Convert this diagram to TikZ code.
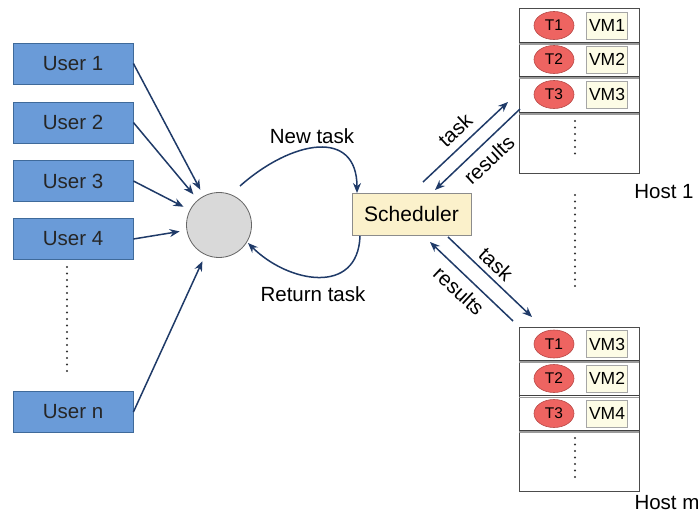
\documentclass[tikz,border=0pt]{standalone}
\usepackage{fontspec}
\setmainfont{Liberation Sans}
\usetikzlibrary{arrows.meta,shapes.geometric}
\definecolor{userfill}{HTML}{6A9BD8}
\definecolor{userdraw}{HTML}{3F6A9A}
\definecolor{arrowcol}{HTML}{1F3A68}
\definecolor{schedfill}{HTML}{FBF1CB}
\definecolor{vmfill}{HTML}{FDFCE6}
\definecolor{taskfill}{HTML}{EE6461}
\definecolor{taskdraw}{HTML}{B84846}
\definecolor{rowline}{HTML}{9A9A9A}
\tikzset{
  userbox/.style={draw=userdraw, fill=userfill, line width=0.8pt, minimum width=120pt, minimum height=41pt, inner sep=0pt, font=\fontsize{20.5}{22}\selectfont, text=black!85},
  hub/.style={circle, draw=black!60, fill=black!15, line width=0.8pt, minimum size=65pt, inner sep=0pt},
  schedbox/.style={draw=black!45, fill=schedfill, line width=0.8pt, minimum width=119pt, minimum height=42pt, inner sep=0pt, font=\fontsize{21}{22}\selectfont},
  hostbox/.style={draw=black!70, line width=0.7pt, minimum width=120pt, inner sep=0pt},
  taskell/.style={ellipse, draw=taskdraw, fill=taskfill, line width=0.6pt, minimum width=40pt, minimum height=28pt, inner sep=0pt, font=\fontsize{15.5}{16}\selectfont},
  vmbox/.style={draw=black!35, fill=vmfill, line width=0.6pt, minimum width=41pt, minimum height=27pt, inner sep=0pt, font=\fontsize{17.5}{18}\selectfont},
  flow/.style={draw=arrowcol, line width=1.5pt, -{Stealth[length=10pt,width=8pt]}},
  lbl/.style={font=\fontsize{20.5}{22}\selectfont, inner sep=0pt},
  dotline/.style={line width=2.2pt, line cap=round, dash pattern=on 0pt off 6.5pt, black!80},
  rowdark/.style={black!75, line width=0.8pt},
  rowlight/.style={rowline, line width=1.6pt},
}
\begin{document}
\begin{tikzpicture}[x=1pt, y=-1pt]
\useasboundingbox (0,0) rectangle (699,513);

% users
\node[userbox] (u1) at (73,63.5) {User 1};
\node[userbox] (u2) at (73,122.5) {User 2};
\node[userbox] (u3) at (73,181) {User 3};
\node[userbox] (u4) at (73,239) {User 4};
\node[userbox] (un) at (73,412) {User n};
\draw[dotline] (67,267) -- (67,373);

% queue and scheduler
\node[hub] (q) at (219,225) {};
\node[schedbox] (s) at (411.5,214) {Scheduler};

\foreach \u in {u1,u2,u3,u4,un}
  \draw[flow, shorten >=7pt] (\u.east) -- (q);

\coordinate (nt0) at (240,186);
\coordinate (nt1) at (357,193);
\draw[flow] (nt0) .. controls (292,140) and (357,128) .. (nt1);
\node[lbl] (ntl) at (312,136) {New task};

\coordinate (rt0) at (360,236);
\coordinate (rt1) at (248,243);
\draw[flow] (rt0) .. controls (358,296) and (288,283) .. (rt1);
\node[lbl] (rtl) at (313,294) {Return task};

% host 1
\node[hostbox, minimum height=165pt] (h1) at (579,90.5) {};
\foreach \yy in {42,76,112} {
  \draw[rowdark] (519,\yy) -- (639,\yy);
  \draw[rowlight] (519,\yy+1.8) -- (639,\yy+1.8);
}
\node[taskell] (a1) at (554,25.5) {T1};
\node[vmbox] (b1) at (607,25.5) {VM1};
\node[taskell] (a2) at (554,59.5) {T2};
\node[vmbox] (b2) at (607,59.5) {VM2};
\node[taskell] (a3) at (554,94.5) {T3};
\node[vmbox] (b3) at (607,94.5) {VM3};
\draw[dotline] (575,121) -- (575,160);
\node[lbl] (h1l) at (664,192) {Host 1};

\draw[dotline] (575,195) -- (575,291);

% host m
\node[hostbox, minimum height=164pt] (hm) at (579,409) {};
\foreach \yy in {360,395.5,430} {
  \draw[rowdark] (519,\yy) -- (639,\yy);
  \draw[rowlight] (519,\yy+1.8) -- (639,\yy+1.8);
}
\node[taskell] (c1) at (554,344) {T1};
\node[vmbox] (d1) at (607,344) {VM3};
\node[taskell] (c2) at (554,378.5) {T2};
\node[vmbox] (d2) at (607,378.5) {VM2};
\node[taskell] (c3) at (554,413.5) {T3};
\node[vmbox] (d3) at (607,413.5) {VM4};
\draw[dotline] (575,438) -- (575,479);
\node[lbl] (hml) at (667,503) {Host m};

% scheduler <-> host 1
\coordinate (t1s) at (423,182);
\coordinate (t1e) at (508,102);
\coordinate (r1s) at (520,109);
\coordinate (r1e) at (435,190);
\draw[flow] (t1s) -- (t1e);
\draw[flow] (r1s) -- (r1e);
\node[lbl, rotate=43] (t1l) at (455,130) {task};
\node[lbl, rotate=43] (r1l) at (489,160) {results};

% scheduler <-> host m
\coordinate (tms) at (448,237);
\coordinate (tme) at (532,317);
\coordinate (rms) at (513,321);
\coordinate (rme) at (430,242);
\draw[flow] (tms) -- (tme);
\draw[flow] (rms) -- (rme);
\node[lbl, rotate=-43] (tml) at (496,264) {task};
\node[lbl, rotate=-43] (rml) at (459,291) {results};
\end{tikzpicture}
\end{document}
